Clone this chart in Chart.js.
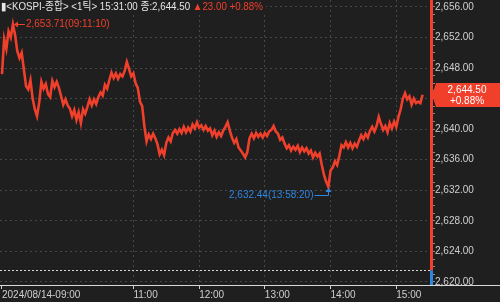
<!DOCTYPE html>
<html>
<head>
<meta charset="utf-8">
<script src="https://cdn.jsdelivr.net/npm/chart.js@4"></script>
<style>
    html, body { margin: 0; padding: 0; background: #1f1f1f; }
    #wrap { width: 500px; height: 302px; position: relative; }
</style>
</head>
<body>
<div id="wrap"><canvas id="chart"></canvas></div>
<script>
// KOSPI 1-tick intraday, 2024/08/14, sampled every 2 minutes from 09:00
const stepMinutes = 2;
const prices = [
    2647.2, 2651.8, 2650.5, 2652.8, 2652.0, 2653.71, 2652.3, 2650.2, 2649.3, 2650.0,
    2647.8, 2645.6, 2645.2, 2646.4, 2644.0, 2642.6, 2641.7, 2643.5, 2646.2, 2645.3,
    2645.9, 2644.6, 2644.2, 2646.3, 2645.5, 2646.2, 2645.4, 2644.3, 2643.2, 2643.9,
    2643.1, 2642.7, 2641.7, 2642.5, 2641.2, 2642.2, 2640.8, 2642.6, 2642.0, 2642.9,
    2643.9, 2643.1, 2643.9, 2643.3, 2644.2, 2644.8, 2644.4, 2645.8, 2645.3, 2646.4,
    2647.4, 2646.7, 2647.3, 2646.6, 2647.2, 2646.9, 2647.6, 2648.8, 2647.9, 2646.9,
    2647.3, 2646.0, 2645.4, 2643.6, 2643.0, 2640.4, 2638.4, 2639.3, 2638.7, 2639.4,
    2638.8, 2638.0, 2636.7, 2637.3, 2636.6, 2638.2, 2638.9, 2638.4, 2639.5, 2639.9,
    2639.4, 2640.0, 2639.5, 2640.3, 2639.6, 2640.2, 2639.7, 2640.6, 2640.1, 2640.9,
    2640.2, 2640.5, 2639.9, 2640.4, 2639.8, 2640.1, 2639.2, 2639.8, 2639.0, 2639.6,
    2639.1, 2639.8, 2640.3, 2640.9, 2639.8, 2638.9, 2638.2, 2638.7, 2637.6, 2637.2,
    2636.8, 2636.3, 2637.0, 2638.8, 2639.4, 2638.8, 2639.5, 2639.0, 2639.4, 2638.9,
    2639.5, 2639.1, 2639.7, 2639.9, 2640.4, 2639.7, 2639.4, 2638.6, 2638.9, 2638.1,
    2637.5, 2637.9, 2637.2, 2637.7, 2637.3, 2637.8, 2637.0, 2637.6, 2637.1, 2637.5,
    2636.8, 2637.2, 2636.3, 2636.9, 2636.4, 2636.8, 2635.3, 2634.0, 2633.1, 2632.44,
    2634.6, 2635.0, 2635.8, 2635.3, 2636.5, 2637.9, 2637.6, 2638.3, 2637.6, 2638.2,
    2637.5, 2638.1, 2637.7, 2638.5, 2639.2, 2638.7, 2639.4, 2638.9, 2639.8, 2640.3,
    2639.7, 2640.4, 2641.6, 2640.7, 2639.9, 2640.4, 2639.6, 2640.8, 2640.1, 2641.0,
    2640.3, 2641.6, 2642.6, 2644.0, 2644.7, 2643.9, 2644.3, 2643.2, 2644.0, 2643.4,
    2643.6, 2643.4, 2644.5
];

const xTickMinutes = [0, 120, 180, 240, 300, 360];
const xTickLabels = ['2024/08/14-09:00', '11:00', '12:00', '13:00', '14:00', '15:00'];
const yMajorTicks = [2620, 2624, 2628, 2632, 2636, 2640, 2644, 2648, 2652, 2656];

const prevClose = 2621.50;
const lastPrice = 2644.50;
const changeText = '▲23.00 +0.88%';
const changePct = '+0.88%';
const titleText = '▮<KOSPI-종합> <1틱> 15:31:00 종:2,644.50 ';
const highTime = '09:11:10';
const lowTime = '13:58:20';

const bgColor = '#1f1f1f';
const upColor = '#f0402c';
const downColor = '#2f86e0';
const textColor = '#cfcfcf';
const gridColor = '#474747';
const FONT = "'Liberation Sans', 'Noto Sans CJK KR', sans-serif";

const fmt = (v) => v.toLocaleString('en-US', { minimumFractionDigits: 2, maximumFractionDigits: 2 });

document.addEventListener("DOMContentLoaded", () => {
    const ctx = document.getElementById('chart').getContext('2d');

    const points = prices.map((p, i) => ({ x: i * stepMinutes, y: p }));

    const yTicks = [];
    for (let v = yMajorTicks[0]; v <= yMajorTicks[yMajorTicks.length - 1]; v++) yTicks.push(v);

    const deco = {
        id: 'deco',
        beforeDraw(chart) {
            const c = chart.ctx;
            c.save();
            c.fillStyle = bgColor;
            c.fillRect(0, 0, chart.width, chart.height);
            c.restore();
        },
        afterDraw(chart) {
            const c = chart.ctx;
            const xs = chart.scales.x;
            const ys = chart.scales.y;
            const area = chart.chartArea;
            c.save();

            // previous close line
            const yPrev = Math.round(ys.getPixelForValue(prevClose)) + 0.5;
            c.strokeStyle = '#d8d8d8';
            c.lineWidth = 1;
            c.setLineDash([2, 2]);
            c.beginPath();
            c.moveTo(area.left, yPrev);
            c.lineTo(area.right, yPrev);
            c.stroke();
            c.setLineDash([]);

            // axis bar: red above prev close, blue below
            c.fillStyle = upColor;
            c.fillRect(area.right - 1, area.top, 3, yPrev - area.top);
            c.fillStyle = downColor;
            c.fillRect(area.right - 1, yPrev, 3, area.bottom - yPrev);

            // bottom axis line
            c.fillStyle = '#d8d8d8';
            c.fillRect(0, area.bottom, chart.width, 1);

            c.font = '11px ' + FONT;
            c.textBaseline = 'middle';

            // high marker
            const hi = prices.indexOf(Math.max(...prices));
            const hx = xs.getPixelForValue(hi * stepMinutes);
            const hy = Math.round(ys.getPixelForValue(prices[hi])) + 0.5;
            c.strokeStyle = upColor;
            c.fillStyle = upColor;
            c.beginPath();
            c.moveTo(hx + 2, hy);
            c.lineTo(hx + 12, hy);
            c.stroke();
            c.beginPath();
            c.moveTo(hx + 1, hy);
            c.lineTo(hx + 5, hy - 3);
            c.lineTo(hx + 5, hy + 3);
            c.closePath();
            c.fill();
            c.textAlign = 'left';
            c.font = '10px ' + FONT;
            c.fillText(`${fmt(prices[hi])}(${highTime})`, hx + 13, hy);

            // low marker
            const lo = prices.indexOf(Math.min(...prices));
            const lx = Math.round(xs.getPixelForValue(lo * stepMinutes)) + 0.5;
            const ly = ys.getPixelForValue(prices[lo]);
            const ty = Math.round(ly + 8) + 0.5;
            c.strokeStyle = downColor;
            c.fillStyle = downColor;
            c.beginPath();
            c.moveTo(lx - 14, ty);
            c.lineTo(lx, ty);
            c.lineTo(lx, ly + 2);
            c.stroke();
            c.beginPath();
            c.moveTo(lx, ly + 1);
            c.lineTo(lx - 3, ly + 5);
            c.lineTo(lx + 3, ly + 5);
            c.closePath();
            c.fill();
            c.textAlign = 'right';
            c.fillText(`${fmt(prices[lo])}(${lowTime})`, lx - 15, ty);

            // title, squeezed to the reference width
            c.font = '11px ' + FONT;
            c.textAlign = 'left';
            const w1 = c.measureText(titleText).width;
            const w2 = c.measureText(changeText).width;
            const sx = Math.min(1, 262 / (w1 + w2));
            c.fillStyle = bgColor;
            c.fillRect(0, 0, (w1 + w2) * sx + 4, 14);
            c.save();
            c.scale(sx, 1);
            c.fillStyle = '#e6e6e6';
            c.fillText(titleText, 1, 7);
            c.fillStyle = upColor;
            c.fillText(changeText, 1 + w1, 7);
            c.restore();

            // last price box
            c.font = '10px ' + FONT;
            const py = Math.round(ys.getPixelForValue(lastPrice));
            const bx = area.right + 5;
            c.fillStyle = upColor;
            c.beginPath();
            c.moveTo(area.right + 1, py);
            c.lineTo(bx, py - 12);
            c.lineTo(chart.width, py - 12);
            c.lineTo(chart.width, py + 12);
            c.lineTo(bx, py + 12);
            c.closePath();
            c.fill();
            c.fillStyle = '#ffffff';
            c.textAlign = 'center';
            c.fillText(fmt(lastPrice), 467, py - 5);
            c.fillText(changePct, 467, py + 6);

            c.restore();
        }
    };

    const config = {
        type: 'line',
        data: {
            datasets: [
                {
                    label: 'KOSPI',
                    data: points,
                    borderColor: upColor,
                    borderWidth: 2.6,
                    pointRadius: 0,
                    fill: false,
                    tension: 0
                }
            ]
        },
        options: {
            animation: false,
            responsive: true,
            maintainAspectRatio: false,
            layout: { padding: 0 },
            plugins: {
                legend: { display: false },
                tooltip: { enabled: false }
            },
            scales: {
                x: {
                    type: 'linear',
                    min: -1.8,
                    max: 391.7,
                    afterBuildTicks: (s) => { s.ticks = xTickMinutes.map(v => ({ value: v })); },
                    afterFit: (s) => { s.height = 17; s.paddingLeft = 0; s.paddingRight = 0; },
                    ticks: {
                        autoSkip: false,
                        maxRotation: 0,
                        align: 'start',
                        padding: 0,
                        color: textColor,
                        font: { family: FONT, size: 10 },
                        callback: (v, i) => xTickLabels[i]
                    },
                    grid: {
                        color: (c) => (c.tick && c.tick.value === 0 ? 'rgba(0,0,0,0)' : gridColor),
                        tickColor: '#cfcfcf',
                        tickLength: 4
                    },
                    border: { display: false, dash: [2, 3] }
                },
                y: {
                    position: 'right',
                    min: 2619.6,
                    max: 2656.9,
                    afterBuildTicks: (s) => { s.ticks = yTicks.map(v => ({ value: v })); },
                    afterFit: (s) => { s.width = 69; s.paddingTop = 0; s.paddingBottom = 0; },
                    ticks: {
                        autoSkip: false,
                        padding: 0,
                        color: textColor,
                        font: { family: FONT, size: 10 },
                        callback: (v) => (v % 4 === 0 ? fmt(v) : '')
                    },
                    grid: {
                        color: (c) => (c.tick && c.tick.value % 4 === 0 ? gridColor : 'rgba(0,0,0,0)'),
                        tickColor: '#8a8a8a',
                        tickLength: 4
                    },
                    border: { display: false, dash: [2, 3] }
                }
            }
        },
        plugins: [deco]
    };

    new Chart(ctx, config);
});
</script>
</body>
</html>
